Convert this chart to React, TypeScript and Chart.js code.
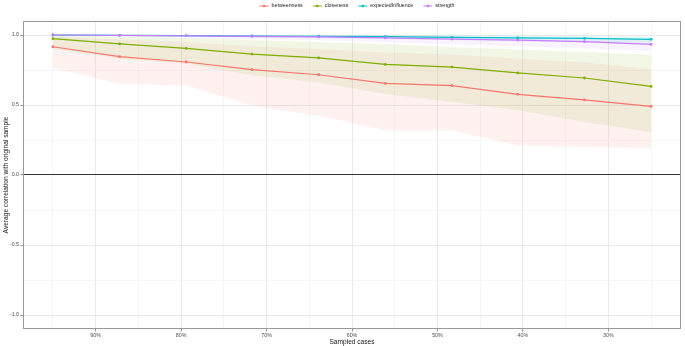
import React, { useEffect, useRef } from 'react';
import { Chart, registerables } from 'chart.js';

Chart.register(...registerables);

const sampledCases = [95, 87.2, 79.4, 71.7, 63.9, 56.1, 48.3, 40.6, 32.8, 25];
const seriesNames = ['betweenness', 'closeness', 'expectedInfluence', 'strength'];
const seriesColors = ['#F8766D', '#7CAE00', '#00BFC4', '#C77CFF'];
const ribbonColors = ['rgba(248,118,109,0.1)', 'rgba(124,174,0,0.1)', 'rgba(0,191,196,0.1)', 'rgba(199,124,255,0.1)'];

const betweenness = [0.916, 0.845, 0.807, 0.752, 0.716, 0.654, 0.638, 0.576, 0.536, 0.49];
const betweennessLower = [0.764, 0.652, 0.64, 0.497, 0.423, 0.32, 0.318, 0.21, 0.2, 0.193];
const betweennessUpper = [0.99, 0.97, 0.95, 0.92, 0.9, 0.875, 0.86, 0.83, 0.805, 0.755];

const closeness = [0.974, 0.936, 0.904, 0.864, 0.836, 0.79, 0.771, 0.73, 0.693, 0.633];
const closenessLower = [0.9, 0.83, 0.795, 0.712, 0.66, 0.578, 0.521, 0.462, 0.378, 0.307];
const closenessUpper = [1.0, 0.99, 0.98, 0.965, 0.95, 0.935, 0.914, 0.897, 0.879, 0.859];

const expectedInfluence = [1.0, 0.998, 0.995, 0.993, 0.991, 0.988, 0.983, 0.979, 0.976, 0.969];
const expectedInfluenceLower = [0.996, 0.992, 0.987, 0.982, 0.977, 0.971, 0.965, 0.957, 0.951, 0.942];
const expectedInfluenceUpper = [1, 1, 1, 1, 1, 0.999, 0.997, 0.995, 0.992, 0.988];

const strength = [1.0, 0.998, 0.994, 0.99, 0.986, 0.979, 0.971, 0.964, 0.952, 0.933];
const strengthLower = [0.998, 0.992, 0.982, 0.972, 0.962, 0.948, 0.934, 0.92, 0.905, 0.886];
const strengthUpper = [1, 1, 1, 1, 0.999, 0.997, 0.993, 0.988, 0.982, 0.972];

const yTitle = 'Average correlation with original sample';
const xTitle = 'Sampled cases';

const FONT = "'Liberation Sans', Arial, Helvetica, sans-serif";

function pts(ys: number[]) {
  return ys.map((y, i) => ({ x: sampledCases[i], y }));
}

const legendPlugin = {
  id: 'ggLegend',
  afterDraw(chart: any) {
    const ctx = chart.ctx;
    ctx.save();
    ctx.font = `5.3px ${FONT}`;
    const keyW = 9;
    const keyGap = 3;
    const itemGap = 10;
    const widths = seriesNames.map((n) => ctx.measureText(n).width);
    const total = widths.reduce((a, b) => a + b, 0) + seriesNames.length * (keyW + keyGap) + (seriesNames.length - 1) * itemGap;
    let x = 357 - total / 2;
    const y = 6;
    seriesNames.forEach((n, i) => {
      ctx.strokeStyle = seriesColors[i];
      ctx.lineWidth = 1;
      ctx.beginPath();
      ctx.moveTo(x, y);
      ctx.lineTo(x + keyW, y);
      ctx.stroke();
      ctx.fillStyle = seriesColors[i];
      ctx.beginPath();
      ctx.arc(x + keyW / 2, y, 1.3, 0, Math.PI * 2);
      ctx.fill();
      x += keyW + keyGap;
      ctx.fillStyle = '#1a1a1a';
      ctx.textBaseline = 'middle';
      ctx.textAlign = 'left';
      ctx.fillText(n, x, y);
      x += widths[i] + itemGap;
    });
    ctx.restore();
  },
};

const borderPlugin = {
  id: 'panelBorder',
  afterDatasetsDraw(chart: any) {
    const { ctx, chartArea } = chart;
    ctx.save();
    ctx.strokeStyle = '#9a9a9a';
    ctx.lineWidth = 1;
    ctx.strokeRect(chartArea.left + 0.5, chartArea.top + 0.5, chartArea.right - chartArea.left - 1, chartArea.bottom - chartArea.top - 1);
    ctx.restore();
  },
};

export default function App() {
  const ref = useRef<HTMLCanvasElement | null>(null);

  useEffect(() => {
    if (!ref.current) return;
    const mains = [betweenness, closeness, expectedInfluence, strength];
    const lowers = [betweennessLower, closenessLower, expectedInfluenceLower, strengthLower];
    const uppers = [betweennessUpper, closenessUpper, expectedInfluenceUpper, strengthUpper];

    const datasets: any[] = [];
    seriesNames.forEach((name, i) => {
      const upIdx = datasets.length;
      datasets.push({
        label: name + ' upper',
        data: pts(uppers[i]),
        borderWidth: 0,
        borderColor: 'rgba(0,0,0,0)',
        pointRadius: 0,
        fill: false,
        order: 20 + i,
      });
      datasets.push({
        label: name + ' lower',
        data: pts(lowers[i]),
        borderWidth: 0,
        borderColor: 'rgba(0,0,0,0)',
        backgroundColor: ribbonColors[i],
        pointRadius: 0,
        fill: { target: upIdx },
        order: 20 + i,
      });
    });
    seriesNames.forEach((name, i) => {
      datasets.push({
        label: name,
        data: pts(mains[i]),
        borderColor: seriesColors[i],
        backgroundColor: seriesColors[i],
        borderWidth: 1.2,
        pointRadius: 1.4,
        pointBorderWidth: 0,
        pointBackgroundColor: seriesColors[i],
        fill: false,
        order: 3 - i,
      });
    });

    const chart = new Chart(ref.current, {
      type: 'line',
      data: { datasets },
      plugins: [legendPlugin, borderPlugin],
      options: {
        animation: false,
        responsive: false,
        devicePixelRatio: 1,
        layout: { padding: { left: 0, top: 21, right: 1, bottom: 0 } },
        plugins: {
          legend: { display: false },
          tooltip: { enabled: false },
        },
        elements: { line: { tension: 0 } },
        scales: {
          x: {
            type: 'linear',
            reverse: true,
            min: 21.5,
            max: 98.5,
            border: { display: false },
            afterFit: (s: any) => { s.height = 17; },
            grid: {
              color: (c: any) => (Math.round(c.tick.value) % 10 === 0 ? '#e6e6e6' : '#f2f2f2'),
              lineWidth: (c: any) => (Math.round(c.tick.value) % 10 === 0 ? 0.9 : 0.7),
              tickColor: (c: any) => (Math.round(c.tick.value) % 10 === 0 ? '#888' : 'rgba(0,0,0,0)'),
              tickLength: 2.5,
              drawTicks: true,
            },
            ticks: {
              stepSize: 5,
              includeBounds: false,
              autoSkip: false,
              maxRotation: 0,
              padding: 1,
              color: '#4d4d4d',
              font: { family: FONT, size: 5.3 },
              callback: (v: any) => (Math.round(v) % 10 === 0 ? `${Math.round(v)}%` : ''),
            },
            title: {
              display: true,
              text: xTitle,
              color: '#1a1a1a',
              font: { family: FONT, size: 6.6 },
              padding: { top: 0, bottom: 0 },
            },
          },
          y: {
            type: 'linear',
            min: -1.1,
            max: 1.1,
            border: { display: false },
            afterFit: (s: any) => { s.width = 23; },
            grid: {
              color: (c: any) => {
                const v = c.tick.value;
                if (Math.abs(v) < 1e-9) return '#333333';
                return Math.abs(v * 2 - Math.round(v * 2)) < 1e-6 ? '#e6e6e6' : '#f2f2f2';
              },
              lineWidth: (c: any) => {
                const v = c.tick.value;
                if (Math.abs(v) < 1e-9) return 1.1;
                return Math.abs(v * 2 - Math.round(v * 2)) < 1e-6 ? 0.9 : 0.7;
              },
              tickColor: (c: any) => {
                const v = c.tick.value;
                return Math.abs(v * 2 - Math.round(v * 2)) < 1e-6 ? '#888' : 'rgba(0,0,0,0)';
              },
              tickLength: 2.5,
              drawTicks: true,
            },
            ticks: {
              stepSize: 0.25,
              includeBounds: false,
              autoSkip: false,
              padding: 1.5,
              color: '#4d4d4d',
              font: { family: FONT, size: 5.3 },
              callback: (v: any) => (Math.abs(v * 2 - Math.round(v * 2)) < 1e-6 ? Number(v).toFixed(1) : ''),
            },
            title: {
              display: true,
              text: yTitle,
              color: '#1a1a1a',
              font: { family: FONT, size: 6.6 },
              padding: { top: 2, bottom: 0 },
            },
          },
        },
      } as any,
    });
    return () => chart.destroy();
  }, []);

  return (
    <div style={{ position: 'fixed', left: 0, top: 0, width: 685, height: 346, background: '#ffffff' }}>
      <canvas ref={ref} width={685} height={346} style={{ display: 'block', width: 685, height: 346 }} />
    </div>
  );
}
